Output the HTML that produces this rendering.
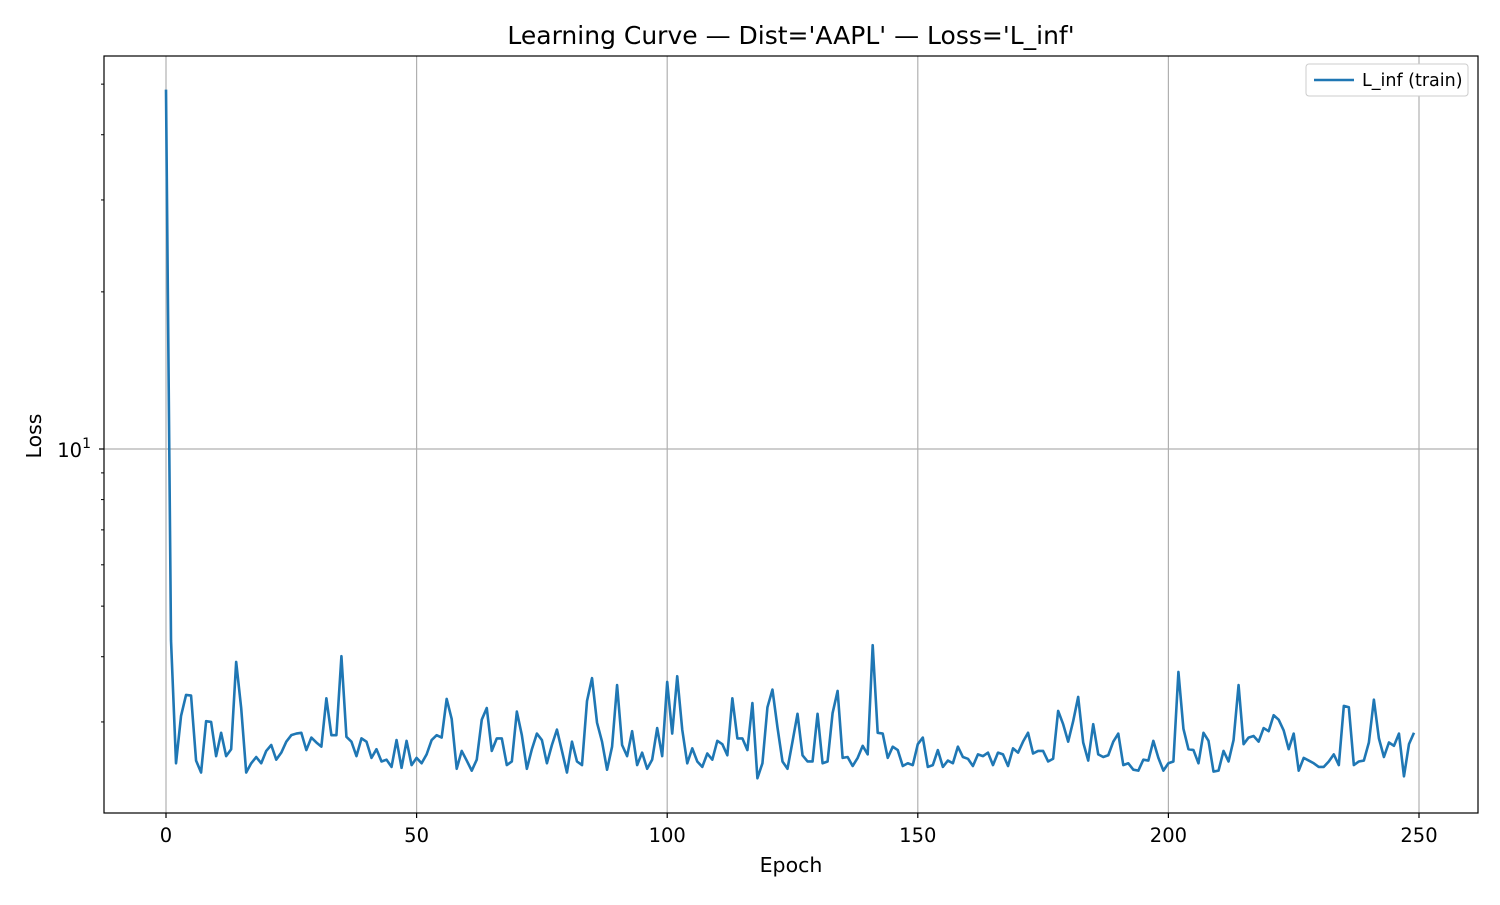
<!DOCTYPE html>
<html><head><meta charset="utf-8"><style>
body{margin:0;background:#fff;}
svg text{font-family:"DejaVu Sans","Liberation Sans",sans-serif;fill:#000;}
</style></head><body>
<svg id="chart" width="1500" height="900"></svg>
<script>
const epochs = Array.from({length:250},(_,i)=>i);
const lossValues = [48.8,4.30,2.50,3.08,3.38,3.37,2.53,2.40,3.01,3.00,2.58,2.86,2.58,2.66,3.91,3.19,2.40,2.50,2.57,2.50,
2.64,2.71,2.54,2.62,2.75,2.83,2.85,2.86,2.65,2.80,2.74,2.69,3.33,2.83,2.83,4.01,2.81,2.75,2.58,2.79,
2.75,2.56,2.66,2.52,2.54,2.46,2.77,2.45,2.76,2.48,2.56,2.50,2.60,2.77,2.83,2.80,3.32,3.04,2.44,2.64,
2.53,2.42,2.54,3.03,3.19,2.64,2.79,2.79,2.48,2.52,3.14,2.83,2.44,2.66,2.85,2.77,2.50,2.71,2.90,2.64,
2.40,2.75,2.52,2.48,3.29,3.64,2.99,2.75,2.43,2.69,3.53,2.71,2.58,2.88,2.48,2.62,2.44,2.54,2.92,2.58,
3.58,2.85,3.67,2.90,2.50,2.67,2.52,2.46,2.61,2.54,2.76,2.72,2.59,3.33,2.79,2.79,2.65,3.26,2.34,2.50,
3.20,3.46,2.93,2.52,2.44,2.75,3.11,2.59,2.52,2.52,3.11,2.50,2.52,3.12,3.44,2.56,2.57,2.47,2.56,2.70,
2.60,4.21,2.86,2.85,2.56,2.69,2.65,2.47,2.50,2.48,2.72,2.80,2.46,2.48,2.65,2.46,2.53,2.50,2.69,2.57,
2.55,2.47,2.60,2.58,2.62,2.48,2.62,2.60,2.47,2.67,2.62,2.75,2.86,2.61,2.64,2.64,2.52,2.55,3.15,2.97,
2.75,3.01,3.35,2.74,2.53,2.97,2.60,2.57,2.59,2.75,2.85,2.48,2.50,2.43,2.42,2.54,2.53,2.76,2.56,2.42,
2.50,2.52,3.74,2.91,2.66,2.65,2.50,2.86,2.76,2.41,2.42,2.64,2.52,2.77,3.53,2.72,2.80,2.82,2.75,2.92,
2.88,3.09,3.03,2.89,2.66,2.85,2.42,2.56,2.53,2.50,2.46,2.46,2.52,2.60,2.48,3.22,3.20,2.48,2.52,2.53,
2.74,3.31,2.79,2.57,2.74,2.70,2.85,2.36,2.72,2.86];
const xTicks = [0,50,100,150,200,250];
const yMinorTicks = [2,3,4,5,6,7,8,9,20,30,40,50];

const NS="http://www.w3.org/2000/svg";
const svg=document.getElementById('chart');
const L=104,R=1478,T=56,B=813;
const x0=166,xPer=(1419-166)/250;
const y10=449,dec=522;
function X(v){return x0+v*xPer;}
function Y(v){return y10-(Math.log10(v)-1)*dec;}
function mk(tag,attrs,parent){const e=document.createElementNS(NS,tag);for(const k in attrs)e.setAttribute(k,attrs[k]);(parent||svg).appendChild(e);return e;}

xTicks.forEach(t=>{
  const g=mk('line',{x1:X(t),x2:X(t),y1:T,y2:B,stroke:'#b0b0b0','stroke-width':1.2});
  
  
});
const gy=mk('line',{x1:L,x2:R,y1:Y(10),y2:Y(10),stroke:'#b0b0b0','stroke-width':1.2});



const pts=epochs.map((e,i)=>X(e).toFixed(2)+','+Y(lossValues[i]).toFixed(2)).join(' ');
const line=mk('polyline',{points:pts,fill:'none',stroke:'#1f77b4','stroke-width':2.6,'stroke-linejoin':'round'});



const fr=mk('rect',{x:L,y:T,width:R-L,height:B-T,fill:'none',stroke:'#000','stroke-width':1.2});



xTicks.forEach(t=>{
  mk('line',{x1:X(t),x2:X(t),y1:B,y2:B+5,stroke:'#000','stroke-width':1.2});
  const tx=mk('text',{x:X(t),y:B+29,'text-anchor':'middle','font-size':'19.5px'});
  tx.textContent=t;
  
  
});
mk('line',{x1:L-5,x2:L,y1:Y(10),y2:Y(10),stroke:'#000','stroke-width':1.2});
const yl=mk('text',{x:L-13,y:Y(10)+8,'text-anchor':'end','font-size':'19.5px'});
yl.innerHTML='10<tspan dy="-9" font-size="14px">1</tspan>';


yMinorTicks.forEach(v=>{
  const y=Y(v); if(y<T||y>B) return;
  mk('line',{x1:L-3,x2:L,y1:y,y2:y,stroke:'#000','stroke-width':1});
});

const xt=mk('text',{x:(L+R)/2,y:872,'text-anchor':'middle','font-size':'20.5px'});
xt.textContent='Epoch';


const ytl=mk('text',{x:41,y:436,'text-anchor':'middle','font-size':'20.5px',transform:'rotate(-90 41 436)'});
ytl.textContent='Loss';


const tt=mk('text',{x:(L+R)/2,y:44,'text-anchor':'middle','font-size':'25px'});
tt.textContent="Learning Curve — Dist='AAPL' — Loss='L_inf'";



const lg=mk('g',{});


mk('rect',{x:1306,y:64,width:162,height:32,rx:3,fill:'#fff',stroke:'#ccc','stroke-width':1},lg);
mk('line',{x1:1314,x2:1354,y1:80,y2:80,stroke:'#1f77b4','stroke-width':2.6},lg);
const lt=mk('text',{x:1362,y:86,'font-size':'17.5px'},lg);
lt.textContent='L_inf (train)';
</script>
</body></html>
